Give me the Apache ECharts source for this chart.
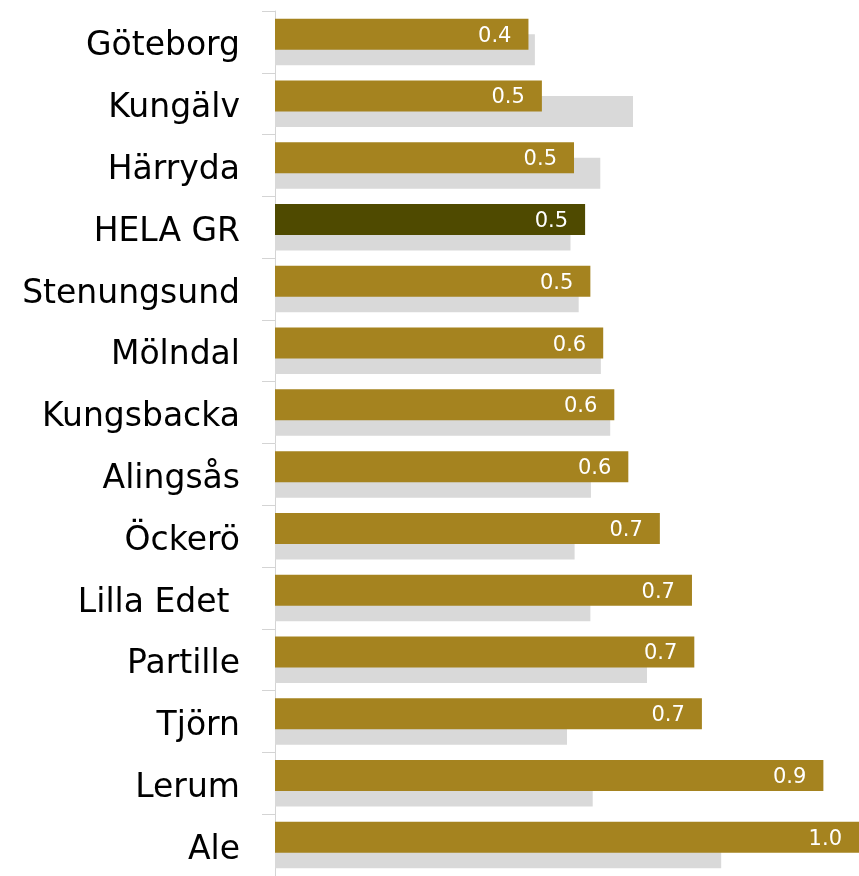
<!DOCTYPE html>
<html>
<head>
<meta charset="utf-8">
<script src="https://cdn.jsdelivr.net/npm/echarts@6/dist/echarts.min.js"></script>
<style>
  html, body { margin: 0; padding: 0; background: #fff; }
  #main { width: 859px; height: 876px; }
</style>
</head>
<body>
<div id="main"></div>
<script>
// kommuner, uppifrån och ned
var kommuner = ['Göteborg', 'Kungälv', 'Härryda', 'HELA GR', 'Stenungsund', 'Mölndal',
  'Kungsbacka', 'Alingsås', 'Öckerö', 'Lilla Edet ', 'Partille', 'Tjörn', 'Lerum', 'Ale'];

// guldstaplar (med etikett)
var varden = [0.434, 0.457, 0.512, 0.531, 0.540, 0.562, 0.581, 0.605, 0.659, 0.714, 0.718, 0.731, 0.939, 1.0];

// grå staplar bakom
var jamfor = [0.445, 0.613, 0.557, 0.506, 0.520, 0.558, 0.574, 0.541, 0.513, 0.540, 0.637, 0.500, 0.544, 0.764];

var guld = '#A5831F';
var mork = '#4F4A00';
var gra = '#D9D9D9';

var chart = echarts.init(document.getElementById('main'));

var guldData = varden.map(function (v, i) {
  if (kommuner[i] === 'HELA GR') {
    return { value: v, itemStyle: { color: mork } };
  }
  return v;
});

var option = {
  animation: false,
  grid: { left: 275, right: -4, top: 11, bottom: -6 },
  xAxis: {
    type: 'value',
    min: 0,
    max: 1,
    show: false
  },
  yAxis: {
    type: 'category',
    inverse: true,
    data: kommuner,
    axisLine: { show: true, lineStyle: { color: '#d4d4d4', width: 1 } },
    axisTick: { show: true, length: 13, lineStyle: { color: '#d4d4d4' } },
    axisLabel: {
      margin: 35,
      color: '#000',
      fontFamily: 'DejaVu Sans',
      fontSize: 33,
      verticalAlign: 'top',
      lineHeight: 10
    }
  },
  series: [
    {
      name: 'guld',
      type: 'bar',
      data: guldData,
      barWidth: 31,
      barGap: '-50%',
      z: 3,
      itemStyle: { color: guld },
      label: {
        show: true,
        position: 'insideRight',
        distance: 17,
        offset: [0, 2],
        color: '#fff',
        fontFamily: 'DejaVu Sans',
        fontSize: 21,
        formatter: function (p) { return p.value.toFixed(1); }
      }
    },
    {
      name: 'gra',
      type: 'bar',
      data: jamfor,
      barWidth: 31,
      z: 2,
      itemStyle: { color: gra }
    }
  ]
};

chart.setOption(option);
</script>
</body>
</html>
